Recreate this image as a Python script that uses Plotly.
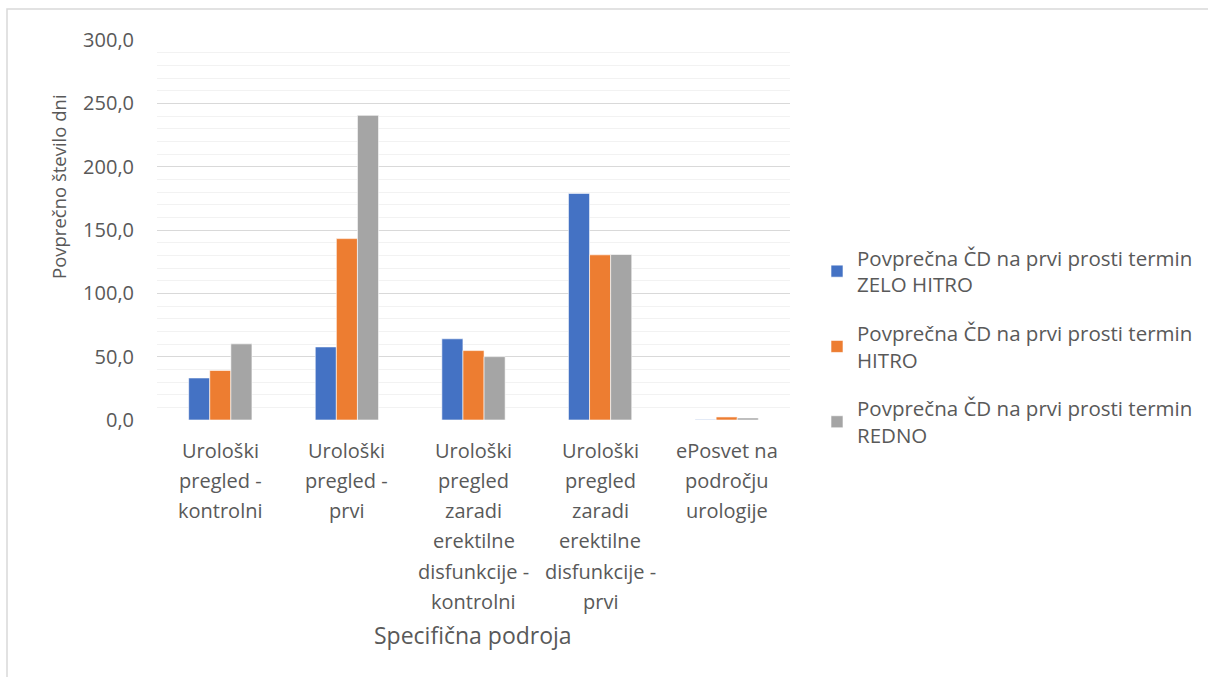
import plotly.graph_objects as go

# Categories (each list = lines of the wrapped axis label)
categories = [
    "Urološki pregled - kontrolni",
    "Urološki pregled - prvi",
    "Urološki pregled zaradi erektilne disfunkcije - kontrolni",
    "Urološki pregled zaradi erektilne disfunkcije - prvi",
    "ePosvet na področju urologije",
]
category_lines = [
    ["Urološki", "pregled -", "kontrolni"],
    ["Urološki", "pregled -", "prvi"],
    ["Urološki", "pregled", "zaradi", "erektilne", "disfunkcije -", "kontrolni"],
    ["Urološki", "pregled", "zaradi", "erektilne", "disfunkcije -", "prvi"],
    ["ePosvet na", "področju", "urologije"],
]

# Average waiting days per urgency level
zelo_hitro = [33.2, 57.7, 64.1, 178.9, 0.4]
hitro = [39.1, 143.2, 54.8, 130.4, 2.4]
redno = [60.1, 240.5, 50.0, 130.7, 1.6]

series_names = [
    "Povprečna ČD na prvi prosti termin<br>ZELO HITRO",
    "Povprečna ČD na prvi prosti termin<br>HITRO",
    "Povprečna ČD na prvi prosti termin<br>REDNO",
]
series_values = [zelo_hitro, hitro, redno]
series_colors = ["#4472C4", "#ED7D31", "#A5A5A5"]

y_tick_vals = [0, 50, 100, 150, 200, 250, 300]
y_tick_text = ["0,0", "50,0", "100,0", "150,0", "200,0", "250,0", "300,0"]

FONT = "Open Sans"
TEXT = "#595959"

W, H = 1208, 677
L, R, T, B = 157, 418, 40, 257
plot_h = H - T - B
plot_w = W - L - R


def py(pixel_y):
    """Convert a pixel row to paper y."""
    return (H - B - pixel_y) / plot_h


def px(pixel_x):
    """Convert a pixel column to paper x."""
    return (pixel_x - L) / plot_w


fig = go.Figure()
for i, (name, vals, col) in enumerate(zip(series_names, series_values, series_colors)):
    fig.add_trace(go.Bar(
        x=categories, y=vals, name=name,
        marker=dict(color=col, line=dict(color="white", width=0.6)),
        legendgroup=f"g{i}",
    ))

# Wrapped category labels, one annotation per line
annotations = []
line_gap = 30.3
for cat, lines in zip(categories, category_lines):
    for j, ln in enumerate(lines):
        annotations.append(dict(
            x=cat, xref="x", y=py(450 + j * line_gap), yref="paper",
            text=ln, showarrow=False, xanchor="center", yanchor="middle",
            font=dict(family=FONT, size=20, color=TEXT),
        ))

# Axis titles
annotations.append(dict(
    x=px(473), y=py(635), xref="paper", yref="paper",
    text="Specifična podroja", showarrow=False,
    xanchor="center", yanchor="middle",
    font=dict(family=FONT, size=23, color=TEXT),
))
annotations.append(dict(
    x=px(58), y=py(187), xref="paper", yref="paper",
    text="Povprečno število dni", showarrow=False, textangle=-90,
    xanchor="center", yanchor="middle",
    font=dict(family=FONT, size=18.5, color=TEXT),
))

fig.update_layout(
    width=W, height=H,
    margin=dict(l=L, r=R, t=T, b=B, autoexpand=False),
    paper_bgcolor="white", plot_bgcolor="white",
    barmode="group", bargap=0.5, bargroupgap=0,
    font=dict(family=FONT, size=20, color=TEXT),
    xaxis=dict(showticklabels=False, showline=False, showgrid=False,
               ticks="", zeroline=False),
    yaxis=dict(range=[0, 300], tickvals=y_tick_vals, ticktext=y_tick_text,
               showgrid=True, gridcolor="#D9D9D9", gridwidth=1.3,
               zeroline=False, showline=False, ticks="", ticklabelstandoff=22,
               tickfont=dict(family=FONT, size=20, color=TEXT),
               minor=dict(dtick=10, showgrid=True, gridcolor="#F2F2F2", gridwidth=1)),
    legend=dict(x=px(817), y=py(238), xanchor="left", yanchor="top",
                font=dict(family=FONT, size=20.5, color=TEXT),
                traceorder="grouped", tracegroupgap=19, itemwidth=30,
                bgcolor="rgba(0,0,0,0)"),
    annotations=annotations,
    shapes=[dict(type="rect", xref="paper", yref="paper",
                 x0=px(7), x1=px(1215), y0=py(690), y1=py(9),
                 line=dict(color="#D9D9D9", width=1.5), layer="below")],
)

fig.write_html("out.html")
